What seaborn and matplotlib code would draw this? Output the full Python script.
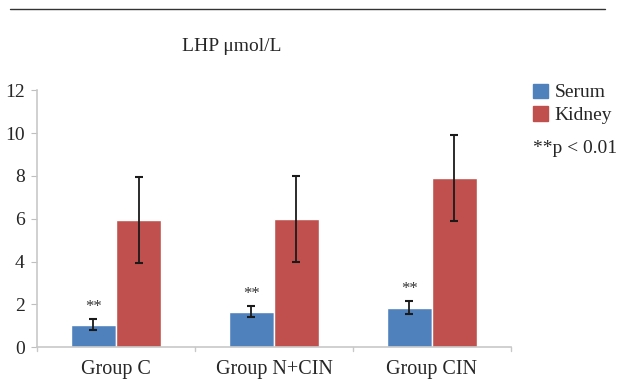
import numpy as np
import pandas as pd
import matplotlib
matplotlib.use("Agg")
import matplotlib.pyplot as plt
import seaborn as sns
from matplotlib.lines import Line2D

groups = ["Group C", "Group N+CIN", "Group CIN"]
series = ["Serum", "Kidney"]
serum_mean = [1.05, 1.65, 1.85]
serum_err = [0.25, 0.25, 0.3]
kidney_mean = [5.95, 6.0, 7.9]
kidney_err = [2.0, 2.0, 2.0]
yticks = [0, 2, 4, 6, 8, 10, 12]

colors = ["#4F81BD", "#C0504D"]

df = pd.DataFrame({
    "group": groups * 2,
    "tissue": ["Serum"] * 3 + ["Kidney"] * 3,
    "value": serum_mean + kidney_mean,
    "err": serum_err + kidney_err,
})

sns.set_style("white")
plt.rcParams["font.family"] = ["Liberation Serif", "DejaVu Serif"]

fig = plt.figure(figsize=(6.17, 3.79), dpi=100)
ax = fig.add_axes([0.06, 0.084, 0.768, 0.678])

sns.barplot(data=df, x="group", y="value", hue="tissue", order=groups,
            hue_order=series, palette=colors, errorbar=None, width=0.57,
            saturation=1, ax=ax, legend=False)

# error bars and significance marks from the drawn bars
errs = [serum_err, kidney_err]
bar_sets = list(ax.containers)
for k, cont in enumerate(bar_sets):
    for j, bar in enumerate(cont):
        xc = bar.get_x() + bar.get_width() / 2
        h = bar.get_height()
        ax.errorbar(xc, h, yerr=errs[k][j], color="#1a1a1a", capsize=3,
                    elinewidth=1.3, capthick=1.5)
        if k == 0:
            ax.text(xc, h + errs[k][j] + 0.2, "**", ha="center",
                    va="bottom", fontsize=12, color="#333333")

ax.set_ylim(0, 12)
ax.set_xlim(-0.5, 2.5)
ax.set_yticks(yticks)
ax.set_yticklabels([str(t) for t in yticks], fontsize=14)
ax.tick_params(axis="x", labelsize=14.5, length=0, pad=9)
ax.tick_params(axis="y", length=4, color="#bfbfbf", pad=5, left=True)
ax.set_xticks([0, 1, 2])
ax.set_xticklabels(groups)
for xb in [-0.5, 0.5, 1.5, 2.5]:
    ax.plot([xb, xb], [0, -0.2], color="#c8c8c8", lw=1, clip_on=False)
ax.set_xlabel("")
ax.set_ylabel("")
sns.despine(ax=ax, top=True, right=True)
for s in ["left", "bottom"]:
    ax.spines[s].set_color("#c8c8c8")
    ax.spines[s].set_linewidth(1.2)

# title and top rule
fig.text(0.375, 0.876, "LHP μmol/L", ha="center", va="center", fontsize=14)
fig.add_artist(Line2D([0.016, 0.98], [0.976, 0.976], color="#333333", lw=1))

# legend
handles = [plt.Rectangle((0, 0), 1, 1, color=c) for c in colors]
fig.legend(handles, series, loc="upper left", bbox_to_anchor=(0.852, 0.8),
           frameon=False, fontsize=14, handlelength=0.75, handleheight=0.75,
           handletextpad=0.35, labelspacing=0.25, borderaxespad=0)
fig.text(0.864, 0.607, "**p < 0.01", ha="left", va="center", fontsize=14)

fig.savefig("out.png", dpi=100)
